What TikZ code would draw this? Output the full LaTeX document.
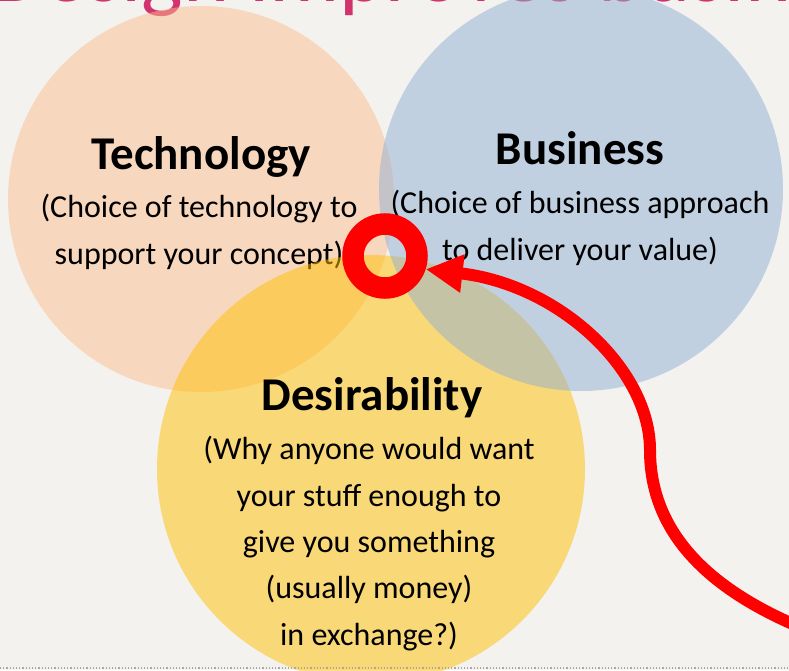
\documentclass[tikz,border=0pt]{standalone}
\usepackage{fontspec}
\setmainfont{Carlito}
\usepackage{xcolor}
\usepackage{tikz}
\usetikzlibrary{arrows.meta}
\definecolor{slidebg}{RGB}{243,242,239}
\definecolor{techorange}{RGB}{251,190,141}
\definecolor{bizblue}{RGB}{145,176,213}
\definecolor{desyellow}{RGB}{255,192,0}
\definecolor{titlepink}{RGB}{210,50,110}
\definecolor{dotgrey}{RGB}{172,166,160}
\tikzstyle{venn} = [circle, inner sep=0pt, fill opacity=0.5]
\tikzstyle{heading} = [font=\fontsize{47}{56}\selectfont\bfseries,
inner sep=0pt, anchor=base]
\tikzstyle{caption} = [font=\fontsize{32}{46.3}\selectfont,
align=center, inner sep=0pt, anchor=base]
\tikzstyle{target} = [draw=red, line width=21.5pt, circle, inner sep=0pt,
minimum size=64pt]
\tikzstyle{pointer} = [draw=red, line width=12pt,
-{Triangle[length=37pt, width=36pt]}]

\begin{document}
\begin{tikzpicture}[x=1pt, y=-1pt]
        \path[use as bounding box, fill=slidebg] (0,0) rectangle (789,670);
        \clip (0,0) rectangle (789,670);
        \node[text=titlepink, font=\fontsize{88}{96}\selectfont, inner sep=0pt,
            anchor=base west] (title) at (-11,1) {Design improves business};

        \node[venn, fill=techorange, minimum size=386pt] (tech) at (201,199) {};
        \node[heading] (techtitle) at (201,169) {Technology};
        \node[caption] (techtext) at (199,264) {(Choice of technology to\\
            support your concept)};

        \node[venn, fill=desyellow, minimum size=428pt] (des) at (371,469) {};
        \node[heading] (destitle) at (372,410) {Desirability};
        \node[caption] (destext) at (369,645) {(Why anyone would want\\
            your stuff enough to\\
            give you something\\
            (usually money)\\
            in exchange?)};

        \node[venn, fill=bizblue, minimum size=404pt] (biz) at (581,189) {};
        \node[heading] (biztitle) at (580,164) {Business};
        \node[caption] (biztext) at (580,260) {(Choice of business approach\\
            to deliver your value)};

        \node[target] (ring) at (385,256) {};
        \coordinate (tail) at (812,632);
        \draw[pointer] (tail) .. controls (705,590) and (650,530) .. (650,450)
            .. controls (650,370) and (560,285) .. (ring.-18);

        \draw[dotgrey, dotted, line width=1.2pt] (0,668) -- (789,668);
    \end{tikzpicture}
\end{document}
